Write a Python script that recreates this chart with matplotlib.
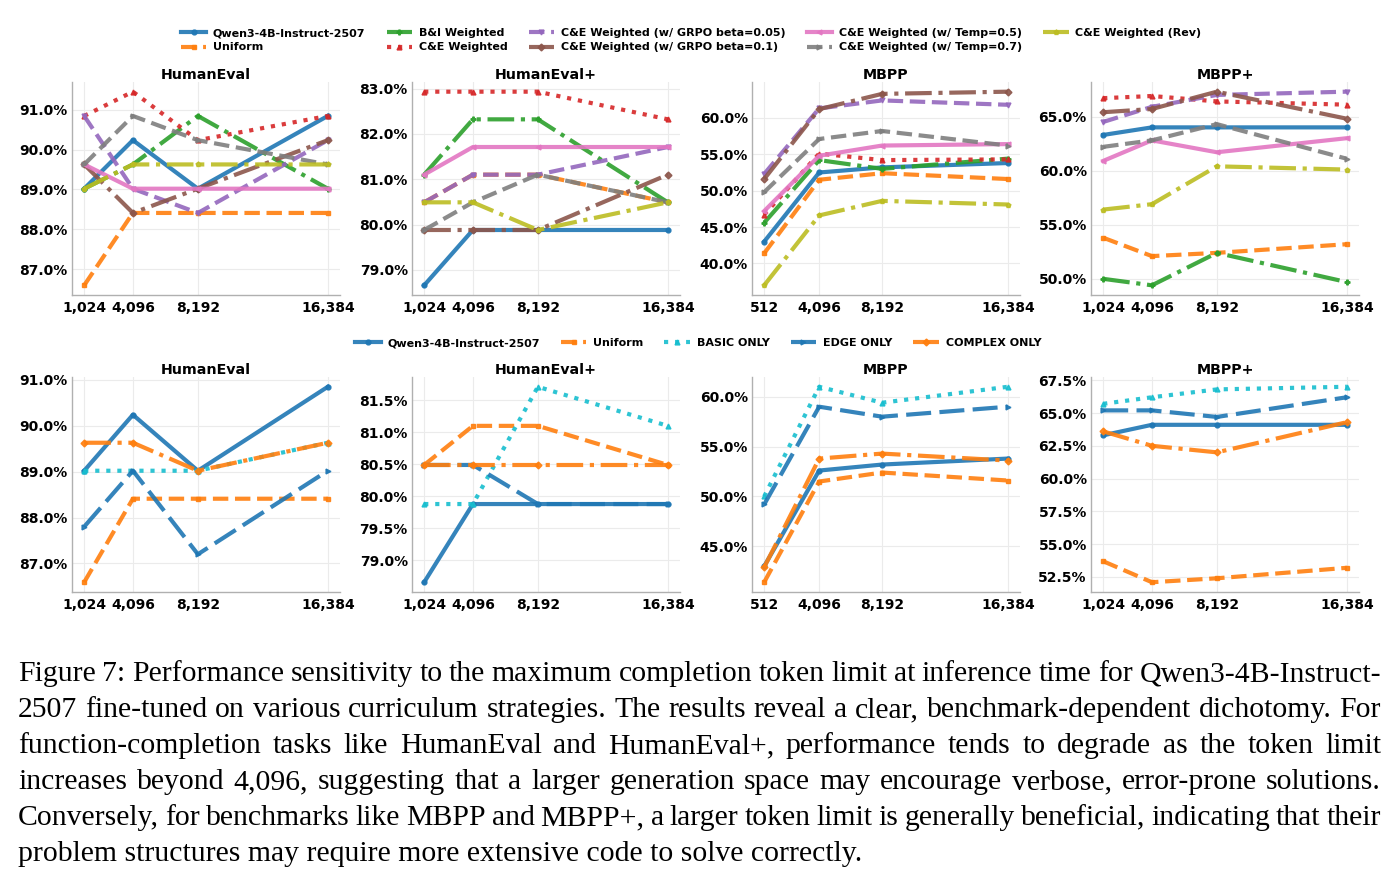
import matplotlib
matplotlib.use("Agg")
import matplotlib.pyplot as plt
from matplotlib.ticker import FuncFormatter, MultipleLocator

# x values (max completion tokens)
TOKENS_HE = [1024, 4096, 8192, 16384]
TOKENS_MBPP = [512, 4096, 8192, 16384]

# ---- top row: curriculum weighting strategies ----
TOP_LABELS = ['Qwen3-4B-Instruct-2507', 'Uniform', 'B&I Weighted', 'C&E Weighted',
              'C&E Weighted (w/ GRPO beta=0.05)', 'C&E Weighted (w/ GRPO beta=0.1)',
              'C&E Weighted (w/ Temp=0.5)', 'C&E Weighted (w/ Temp=0.7)', 'C&E Weighted (Rev)']

top_humaneval = [
    [89.02, 90.24, 89.02, 90.85],
    [86.59, 88.41, 88.41, 88.41],
    [89.02, 89.63, 90.85, 89.02],
    [90.85, 91.46, 90.24, 90.85],
    [90.85, 89.02, 88.41, 90.24],
    [89.63, 88.41, 89.02, 90.24],
    [89.63, 89.02, 89.02, 89.02],
    [89.63, 90.85, 90.24, 89.63],
    [89.02, 89.63, 89.63, 89.63],
]
top_humaneval_plus = [
    [78.66, 79.88, 79.88, 79.88],
    [80.49, 81.10, 81.10, 80.49],
    [81.10, 82.32, 82.32, 80.49],
    [82.93, 82.93, 82.93, 82.32],
    [80.49, 81.10, 81.10, 81.71],
    [79.88, 79.88, 79.88, 81.10],
    [81.10, 81.71, 81.71, 81.71],
    [79.88, 80.49, 81.10, 80.49],
    [80.49, 80.49, 79.88, 80.49],
]
top_mbpp = [
    [43.0, 52.5, 53.2, 53.8],
    [41.4, 51.5, 52.4, 51.6],
    [45.6, 54.2, 53.0, 54.4],
    [46.7, 55.1, 54.2, 54.3],
    [52.3, 61.3, 62.4, 61.8],
    [51.6, 61.2, 63.3, 63.6],
    [47.2, 54.8, 56.2, 56.4],
    [49.8, 57.1, 58.2, 56.2],
    [37.0, 46.6, 48.6, 48.1],
]
top_mbpp_plus = [
    [63.3, 64.0, 64.0, 64.0],
    [53.8, 52.1, 52.4, 53.2],
    [50.0, 49.4, 52.4, 49.7],
    [66.7, 66.9, 66.4, 66.1],
    [64.5, 65.9, 67.0, 67.3],
    [65.4, 65.7, 67.3, 64.8],
    [60.9, 62.8, 61.7, 63.0],
    [62.2, 62.8, 64.3, 61.1],
    [56.4, 56.9, 60.4, 60.1],
]

# ---- bottom row: single-difficulty curricula ----
BOTTOM_LABELS = ['Qwen3-4B-Instruct-2507', 'Uniform', 'BASIC ONLY', 'EDGE ONLY', 'COMPLEX ONLY']

bot_humaneval = [
    [89.02, 90.24, 89.02, 90.85],
    [86.59, 88.41, 88.41, 88.41],
    [89.02, 89.02, 89.02, 89.63],
    [87.80, 89.02, 87.20, 89.02],
    [89.63, 89.63, 89.02, 89.63],
]
bot_humaneval_plus = [
    [78.66, 79.88, 79.88, 79.88],
    [80.49, 81.10, 81.10, 80.49],
    [79.88, 79.88, 81.71, 81.10],
    [80.49, 80.49, 79.88, 79.88],
    [80.49, 80.49, 80.49, 80.49],
]
bot_mbpp = [
    [43.0, 52.6, 53.2, 53.8],
    [41.4, 51.5, 52.4, 51.6],
    [50.0, 61.0, 59.4, 61.0],
    [49.2, 59.0, 58.0, 59.0],
    [42.9, 53.8, 54.3, 53.6],
]
bot_mbpp_plus = [
    [63.3, 64.1, 64.1, 64.1],
    [53.7, 52.1, 52.4, 53.2],
    [65.7, 66.2, 66.8, 67.0],
    [65.2, 65.2, 64.7, 66.2],
    [63.6, 62.5, 62.0, 64.3],
]

CAPTION = [
    "Figure 7: Performance sensitivity to the maximum completion token limit at inference time for Qwen3-4B-Instruct-",
    "2507 fine-tuned on various curriculum strategies. The results reveal a clear, benchmark-dependent dichotomy. For",
    "function-completion tasks like HumanEval and HumanEval+, performance tends to degrade as the token limit",
    "increases beyond 4,096, suggesting that a larger generation space may encourage verbose, error-prone solutions.",
    "Conversely, for benchmarks like MBPP and MBPP+, a larger token limit is generally beneficial, indicating that their",
    "problem structures may require more extensive code to solve correctly.",
]

TOP_STYLES = [
    ('tab:blue', '-', 'o'),
    ('tab:orange', '--', 's'),
    ('tab:green', '-.', 'P'),
    ('tab:red', ':', '^'),
    ('tab:purple', '--', 'v'),
    ('tab:brown', '-.', 'D'),
    ('tab:pink', '-', '<'),
    ('tab:gray', '--', '>'),
    ('tab:olive', '-.', 'p'),
]
BOTTOM_STYLES = [
    ('tab:blue', '-', 'o'),
    ('tab:orange', '--', 's'),
    ('tab:cyan', ':', '^'),
    ('tab:blue', (0, (6, 2)), '>'),
    ('tab:orange', '-.', 'D'),
]

W, H = 1399, 883
fig = plt.figure(figsize=(W / 100, H / 100), dpi=100)
fig.patch.set_facecolor('white')

COL_LEFT = [72, 412, 752, 1091]
AX_W = 268


def make_ax(col, top, bottom):
    return fig.add_axes([COL_LEFT[col] / W, 1 - bottom / H, AX_W / W, (bottom - top) / H])


def style_ax(ax, title, xs, step):
    ax.set_title(title, fontsize=10.3, fontweight='bold', pad=2)
    ax.set_xticks(xs)
    ax.xaxis.set_major_formatter(FuncFormatter(lambda v, p: f'{int(v):,}'))
    ax.yaxis.set_major_locator(MultipleLocator(step))
    ax.yaxis.set_major_formatter(FuncFormatter(lambda v, p: f'{v:.1f}%'))
    ax.grid(True, color='#ebebeb', linewidth=0.8)
    ax.set_axisbelow(True)
    for s in ['top', 'right']:
        ax.spines[s].set_visible(False)
    for s in ['left', 'bottom']:
        ax.spines[s].set_color('#b0b0b0')
        ax.spines[s].set_linewidth(1.0)
    ax.tick_params(axis='y', length=0, pad=3, labelsize=10)
    ax.tick_params(axis='x', length=0, pad=4.5, labelsize=10)
    for lab in ax.get_xticklabels() + ax.get_yticklabels():
        lab.set_fontweight('bold')


def draw_panel(ax, xs, series, styles, labels):
    handles = []
    for vals, (c, ls, mk), lab in zip(series, styles, labels):
        h, = ax.plot(xs, vals, color=c, linestyle=ls, marker=mk, markersize=3.5,
                     linewidth=3, alpha=0.9, label=lab)
        handles.append(h)
    return handles


top_panels = [('HumanEval', TOKENS_HE, top_humaneval, 1.0),
              ('HumanEval+', TOKENS_HE, top_humaneval_plus, 1.0),
              ('MBPP', TOKENS_MBPP, top_mbpp, 5.0),
              ('MBPP+', TOKENS_HE, top_mbpp_plus, 5.0)]
bot_panels = [('HumanEval', TOKENS_HE, bot_humaneval, 1.0),
              ('HumanEval+', TOKENS_HE, bot_humaneval_plus, 0.5),
              ('MBPP', TOKENS_MBPP, bot_mbpp, 5.0),
              ('MBPP+', TOKENS_HE, bot_mbpp_plus, 2.5)]

for i, (title, xs, series, step) in enumerate(top_panels):
    ax = make_ax(i, 82, 295)
    top_handles = draw_panel(ax, xs, series, TOP_STYLES, TOP_LABELS)
    style_ax(ax, title, xs, step)

for i, (title, xs, series, step) in enumerate(bot_panels):
    ax = make_ax(i, 377, 592)
    bot_handles = draw_panel(ax, xs, series, BOTTOM_STYLES, BOTTOM_LABELS)
    style_ax(ax, title, xs, step)

leg_font = dict(weight='bold', size=8)
fig.legend(top_handles, TOP_LABELS, loc='upper center', bbox_to_anchor=(0.494, 1 - 18 / H),
           ncol=5, frameon=False, prop=leg_font, handlelength=2.3, columnspacing=1.9,
           handletextpad=0.6, labelspacing=0.4)
fig.legend(bot_handles, BOTTOM_LABELS, loc='center', bbox_to_anchor=(0.499, 1 - 343 / H),
           ncol=5, frameon=False, prop=leg_font, handlelength=2.3, columnspacing=1.9,
           handletextpad=0.6)

# caption, justified word by word like the paper
renderer = fig.canvas.get_renderer()
CAP_X0, CAP_X1 = 18, 1381
CAP_SIZE = 21.4
for k, line in enumerate(CAPTION):
    y = 681 + 36 * k
    if k == len(CAPTION) - 1:
        fig.text(CAP_X0 / W, 1 - y / H, line, fontsize=CAP_SIZE, family='Liberation Serif',
                 va='baseline', ha='left')
        continue
    words = line.split(' ')
    objs = [fig.text(0, 1 - y / H, w, fontsize=CAP_SIZE, family='Liberation Serif',
                     va='baseline', ha='left') for w in words]
    widths = [o.get_window_extent(renderer).width for o in objs]
    gap = (CAP_X1 - CAP_X0 - sum(widths)) / (len(words) - 1)
    x = CAP_X0
    for o, wd in zip(objs, widths):
        o.set_x(x / W)
        x += wd + gap

fig.savefig('out.png', dpi=100, facecolor='white')
